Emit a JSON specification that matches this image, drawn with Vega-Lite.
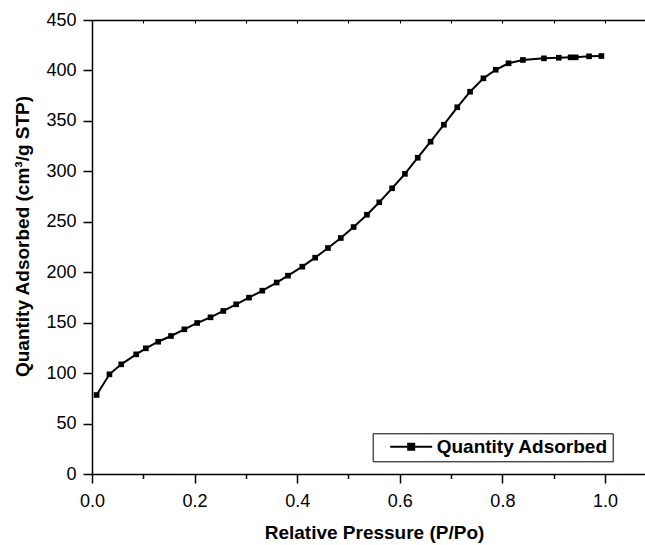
{
  "$schema": "https://vega.github.io/schema/vega-lite/v6.json",
  "width": 553,
  "height": 454,
  "autosize": {"type": "none"},
  "padding": {"left": 92, "top": 20, "right": 0, "bottom": 71},
  "background": "white",
  "config": {
    "view": {"stroke": null},
    "font": "Liberation Sans",
    "axis": {
      "domainColor": "black",
      "domainWidth": 1.5,
      "tickColor": "black",
      "tickWidth": 1.5,
      "labelColor": "black",
      "titleColor": "black",
      "labelFont": "Liberation Sans",
      "titleFont": "Liberation Sans",
      "grid": false
    }
  },
  "data": {
    "values": [
      {"p": 0.009, "q": 78.3, "series": "Quantity Adsorbed"},
      {"p": 0.034, "q": 98.8, "series": "Quantity Adsorbed"},
      {"p": 0.057, "q": 108.7, "series": "Quantity Adsorbed"},
      {"p": 0.086, "q": 118.6, "series": "Quantity Adsorbed"},
      {"p": 0.105, "q": 124.6, "series": "Quantity Adsorbed"},
      {"p": 0.129, "q": 131.1, "series": "Quantity Adsorbed"},
      {"p": 0.154, "q": 136.8, "series": "Quantity Adsorbed"},
      {"p": 0.180, "q": 143.4, "series": "Quantity Adsorbed"},
      {"p": 0.205, "q": 149.7, "series": "Quantity Adsorbed"},
      {"p": 0.231, "q": 155.3, "series": "Quantity Adsorbed"},
      {"p": 0.256, "q": 161.6, "series": "Quantity Adsorbed"},
      {"p": 0.281, "q": 168.2, "series": "Quantity Adsorbed"},
      {"p": 0.306, "q": 174.8, "series": "Quantity Adsorbed"},
      {"p": 0.332, "q": 181.7, "series": "Quantity Adsorbed"},
      {"p": 0.360, "q": 189.8, "series": "Quantity Adsorbed"},
      {"p": 0.382, "q": 196.6, "series": "Quantity Adsorbed"},
      {"p": 0.410, "q": 205.5, "series": "Quantity Adsorbed"},
      {"p": 0.435, "q": 214.4, "series": "Quantity Adsorbed"},
      {"p": 0.460, "q": 224.0, "series": "Quantity Adsorbed"},
      {"p": 0.485, "q": 233.9, "series": "Quantity Adsorbed"},
      {"p": 0.510, "q": 244.8, "series": "Quantity Adsorbed"},
      {"p": 0.536, "q": 257.0, "series": "Quantity Adsorbed"},
      {"p": 0.560, "q": 269.3, "series": "Quantity Adsorbed"},
      {"p": 0.585, "q": 283.2, "series": "Quantity Adsorbed"},
      {"p": 0.610, "q": 297.5, "series": "Quantity Adsorbed"},
      {"p": 0.635, "q": 313.5, "series": "Quantity Adsorbed"},
      {"p": 0.660, "q": 329.4, "series": "Quantity Adsorbed"},
      {"p": 0.686, "q": 346.2, "series": "Quantity Adsorbed"},
      {"p": 0.712, "q": 363.5, "series": "Quantity Adsorbed"},
      {"p": 0.737, "q": 378.9, "series": "Quantity Adsorbed"},
      {"p": 0.763, "q": 392.2, "series": "Quantity Adsorbed"},
      {"p": 0.787, "q": 400.7, "series": "Quantity Adsorbed"},
      {"p": 0.812, "q": 407.1, "series": "Quantity Adsorbed"},
      {"p": 0.840, "q": 410.4, "series": "Quantity Adsorbed"},
      {"p": 0.881, "q": 412.0, "series": "Quantity Adsorbed"},
      {"p": 0.910, "q": 412.6, "series": "Quantity Adsorbed"},
      {"p": 0.933, "q": 413.0, "series": "Quantity Adsorbed"},
      {"p": 0.943, "q": 413.0, "series": "Quantity Adsorbed"},
      {"p": 0.969, "q": 414.0, "series": "Quantity Adsorbed"},
      {"p": 0.993, "q": 414.3, "series": "Quantity Adsorbed"}
    ]
  },
  "resolve": {"axis": {"x": "independent"}},
  "layer": [
    {
      "mark": {"type": "line", "strokeWidth": 2},
      "encoding": {
        "x": {
          "field": "p", "type": "quantitative",
          "scale": {"domain": [0, 1.078], "nice": false, "zero": false},
          "axis": {
            "orient": "bottom",
            "title": "Relative Pressure (P/Po)",
            "titleFontSize": 19,
            "titleFontWeight": "bold",
            "titleBaseline": "alphabetic",
            "titleX": 282,
            "titleY": 64,
            "values": [0, 0.1, 0.2, 0.3, 0.4, 0.5, 0.6, 0.7, 0.8, 0.9, 1.0],
            "labelExpr": "round(datum.value*10) % 2 == 0 ? format(datum.value, '.1f') : ''",
            "labelFontSize": 18,
            "labelPadding": 9,
            "tickSize": {"condition": {"test": "round(datum.value*10) % 2 == 0", "value": 9}, "value": 4.5},
            "labelFlush": false,
            "labelOverlap": false
          }
        },
        "y": {
          "field": "q", "type": "quantitative",
          "scale": {"domain": [0, 450], "nice": false},
          "axis": {
            "title": "Quantity Adsorbed (cm³/g STP)",
            "titleFontSize": 19,
            "titleFontWeight": "bold",
            "titleBaseline": "alphabetic",
            "titleX": -64,
            "titleY": 216,
            "values": [0, 25, 50, 75, 100, 125, 150, 175, 200, 225, 250, 275, 300, 325, 350, 375, 400, 425, 450],
            "labelExpr": "datum.value % 50 == 0 ? datum.label : ''",
            "labelFontSize": 18,
            "labelPadding": 7,
            "tickSize": {"condition": {"test": "datum.value % 50 == 0", "value": 9}, "value": 4.5},
            "labelFlush": false,
            "labelOverlap": false
          }
        },
        "color": {
          "field": "series", "type": "nominal",
          "scale": {"range": ["black"]},
          "legend": {
            "title": null,
            "orient": "none",
            "legendX": 280.7,
            "legendY": 413.3,
            "strokeColor": "black",
            "padding": 4,
            "symbolType": "M-3,0L3,0M-0.43,-0.43L0.43,-0.43L0.43,0.43L-0.43,0.43Z",
            "symbolSize": 196,
            "symbolStrokeWidth": 2,
            "symbolOffset": 25,
            "labelOffset": 16,
            "labelFontSize": 19,
            "labelFontWeight": "bold",
            "labelFont": "Liberation Sans",
            "labelColor": "black",
            "labelLimit": 400,
            "encode": {
              "symbols": {"update": {"fill": {"value": "black"}, "stroke": {"value": "black"}, "strokeWidth": {"value": 2}}}
            }
          }
        }
      }
    },
    {
      "mark": {"type": "point", "shape": "square", "filled": true, "size": 32, "color": "black", "opacity": 1},
      "encoding": {
        "x": {
          "field": "p", "type": "quantitative",
          "axis": {
            "orient": "top",
            "title": null,
            "labels": false,
            "values": [0.1, 0.2, 0.3, 0.4, 0.5, 0.6, 0.7, 0.8, 0.9, 1.0],
            "tickSize": -3,
            "tickWidth": 1
          }
        },
        "y": {"field": "q", "type": "quantitative"}
      }
    }
  ]
}
